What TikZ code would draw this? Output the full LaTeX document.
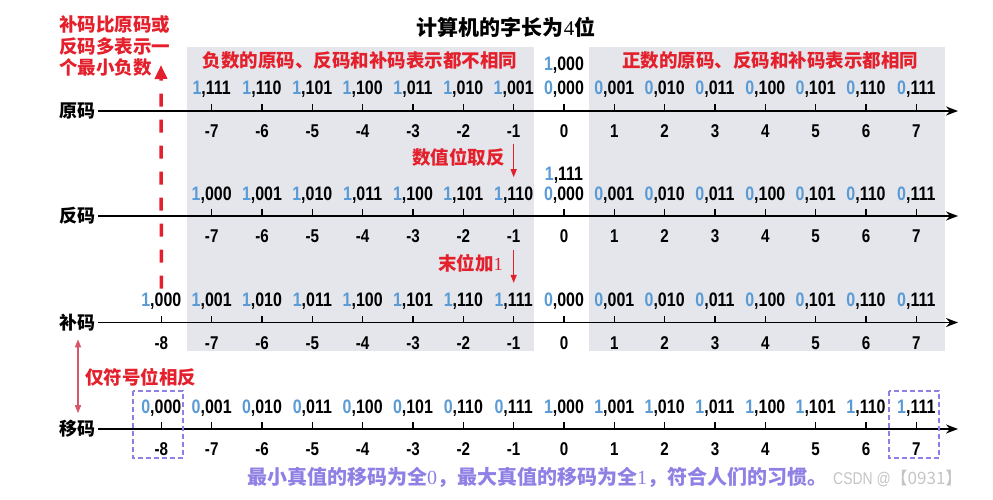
\documentclass[tikz,border=0pt]{standalone}
\usepackage{fontspec}
\setmainfont{Liberation Sans}
\newfontfamily\numfont{Liberation Sans}[FakeStretch=0.82]
\newfontfamily\cjk{Noto Sans CJK SC}
\newfontfamily\serifd{Liberation Serif}
\usetikzlibrary{arrows.meta,calc}
\definecolor{cred}{HTML}{E3202B}
\definecolor{cblue}{HTML}{5B9BD5}
\definecolor{cgray}{HTML}{E4E6EC}
\definecolor{cpurple}{HTML}{8E80E4}
\definecolor{cpink}{HTML}{D9556A}
\definecolor{cwm}{HTML}{C4C4C4}
\newcommand\bv[2]{{\color{cblue}#1},#2}
\newcommand\valrow[3]{%
  \foreach \n/\b/\rr [evaluate=\n as \k using int(\n+8)] in {#3}{%
    \node[valtxt] (v#1-\k) at ({564+50.33*\n},#2-16) {\bv{\b}{\rr}};
  }}
\newcommand\labrow[3]{%
  \foreach \n [evaluate=\n as \k using int(\n+8)] in {#3,...,7}{%
    \draw[tickline] ({564+50.33*\n},#2) -- ++(0,-7);
    \node[labtxt] (l#1-\k) at ({564+50.33*\n},#2+26.5) {\n};
  }}
\begin{document}
\begin{tikzpicture}[x=1pt,y=-1pt,
  valtxt/.style={font=\numfont\bfseries\fontsize{19.5}{20}\selectfont, inner sep=0pt, anchor=base},
  labtxt/.style={font=\numfont\bfseries\fontsize{18.5}{20}\selectfont, inner sep=0pt, anchor=base},
  rowname/.style={font=\cjk\bfseries\fontsize{18}{20}\selectfont, inner sep=0pt},
  redtxt/.style={font=\cjk\bfseries\fontsize{18.5}{21.5}\selectfont, text=cred, inner sep=0pt},
  axisline/.style={line width=1.8pt, -{Stealth[length=12pt,width=9pt]}},
  tickline/.style={line width=1.4pt},
  bgbox/.style={fill=cgray, draw=none},
  redarrow/.style={draw=cred, line width=1.2pt, -{Triangle[length=8pt,width=6pt]}},
  reddash/.style={draw=cred, line width=3.5pt, dash pattern=on 13pt off 13pt, -{Triangle[length=14pt,width=12pt]}},
  pinkarrow/.style={draw=cpink, line width=1.2pt, {Triangle[length=8pt,width=6pt]}-{Triangle[length=8pt,width=6pt]}},
  pbox/.style={draw=cpurple, line width=1.5pt, dash pattern=on 5pt off 3pt}
]
\useasboundingbox (0,0) rectangle (993,500);
% background panels
\fill[bgbox] (187,47) rectangle (534,351);
\fill[bgbox] (589,47) rectangle (945,351);

% title and headers
\node[font=\cjk\bfseries\fontsize{21}{24}\selectfont, inner sep=0pt] (title) at (506,27) {计算机的字长为{\serifd\mdseries 4}位};
\node[redtxt] (hneg) at (360,60) {负数的原码、反码和补码表示都不相同};
\node[redtxt] (hpos) at (770,60) {正数的原码、反码和补码表示都相同};
\node[redtxt, align=left, anchor=west] (note1) at (59,46) {补码比原码或\\反码多表示一\\个最小负数};

% row names
\node[rowname] (r1) at (77,111) {原码};
\node[rowname] (r2) at (77,216) {反码};
\node[rowname] (r3) at (77,322.5) {补码};
\node[rowname] (r4) at (77,429) {移码};
\coordinate (e1) at (958,111);
\coordinate (e2) at (958,216);
\coordinate (e3) at (958,322.5);
\coordinate (e4) at (958,429);
\foreach \i in {1,2,3,4}{\draw[axisline] ($(r\i.east)+(3,0)$) -- (e\i);}

% ticks and labels
\labrow{1}{111}{-7}
\labrow{2}{216}{-7}
\labrow{3}{322.5}{-8}
\labrow{4}{429}{-8}

% values
\valrow{1}{111}{-7/1/111,-6/1/110,-5/1/101,-4/1/100,-3/1/011,-2/1/010,-1/1/001,0/0/000,1/0/001,2/0/010,3/0/011,4/0/100,5/0/101,6/0/110,7/0/111}
\valrow{2}{216}{-7/1/000,-6/1/001,-5/1/010,-4/1/011,-3/1/100,-2/1/101,-1/1/110,0/0/000,1/0/001,2/0/010,3/0/011,4/0/100,5/0/101,6/0/110,7/0/111}
\valrow{3}{322.5}{-8/1/000,-7/1/001,-6/1/010,-5/1/011,-4/1/100,-3/1/101,-2/1/110,-1/1/111,0/0/000,1/0/001,2/0/010,3/0/011,4/0/100,5/0/101,6/0/110,7/0/111}
\valrow{4}{429}{-8/0/000,-7/0/001,-6/0/010,-5/0/011,-4/0/100,-3/0/101,-2/0/110,-1/0/111,0/1/000,1/1/001,2/1/010,3/1/011,4/1/100,5/1/101,6/1/110,7/1/111}
\node[valtxt] (v1-top) at (564,71) {\bv{1}{000}};
\node[valtxt] (v2-top) at (564,180) {\bv{1}{111}};

% conversion arrows
\draw[redarrow] ($(l1-7.south)+(0,6)$) -- ($(v2-7.north)+(0,-9)$);
\node[redtxt, anchor=east] (qf) at (505,157) {数值位取反};
\draw[redarrow] ($(l2-7.south)+(0,7)$) -- ($(v3-7.north)+(0,-10)$);
\node[redtxt, anchor=east] (jia) at (503,263) {末位加{\serifd\mdseries 1}};

% extra minimum negative
\coordinate (tipA) at (161,65);
\draw[reddash] ($(v3-0.north)+(0,-4)$) -- (tipA);

% sign bit only
\draw[pinkarrow] ($(r3.south)+(1,8)$) -- ($(r4.north)+(1,-7)$);
\node[redtxt, anchor=west] (fh) at (85,377) {仅符号位相反};

% purple boxes
\draw[pbox] (133,391) rectangle (183,458);
\draw[pbox] (889,391) rectangle (939,458);
\node[font=\cjk\bfseries\fontsize{20}{22}\selectfont, text=cpurple, inner sep=0pt] (note3) at (537,477) {最小真值的移码为全{\serifd\mdseries 0}，最大真值的移码为全{\serifd\mdseries 1}，符合人们的习惯。};

% watermark
\node[font=\numfont\fontsize{17}{18}\selectfont, text=cwm, inner sep=0pt, anchor=west] (wm) at (833,478) {CSDN @{\cjk\mdseries 【0931】}};
\end{tikzpicture}
\end{document}
